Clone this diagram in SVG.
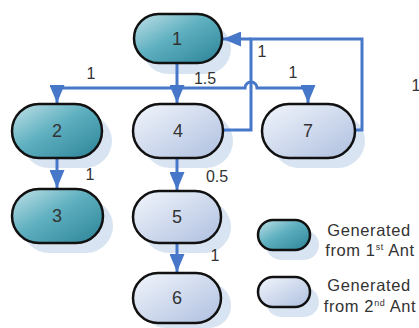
<svg xmlns="http://www.w3.org/2000/svg" width="419" height="328" viewBox="0 0 419 328">
  <defs>
    <linearGradient id="gTeal" x1="0" y1="0" x2="1" y2="1">
      <stop offset="0" stop-color="#c2e2e8"/>
      <stop offset="0.45" stop-color="#5fb0c0"/>
      <stop offset="1" stop-color="#2b8396"/>
    </linearGradient>
    <linearGradient id="gPale" x1="0" y1="0" x2="1" y2="1">
      <stop offset="0" stop-color="#f2f6fc"/>
      <stop offset="1" stop-color="#aebfdf"/>
    </linearGradient>
    <marker id="arrow" viewBox="0 0 12 10" refX="12" refY="5" markerWidth="6" markerHeight="5" markerUnits="strokeWidth" orient="auto">
      <path d="M0,0 L12,5 L0,10 z" fill="#4677c9"/>
    </marker>
  </defs>
  <style>
    .shadow { fill: #d9e4f2; }
    .ant1 { fill: url(#gTeal); stroke: #111; stroke-width: 2.5; }
    .ant2 { fill: url(#gPale); stroke: #111; stroke-width: 2.5; }
    .label { font-family: "Liberation Sans", Arial, sans-serif; font-size: 18px; fill: #333; text-anchor: middle; }
    .w { font-family: "Liberation Sans", Arial, sans-serif; font-size: 16px; fill: #333; text-anchor: middle; }
    .legend { font-family: "Liberation Sans", Arial, sans-serif; font-size: 16.5px; letter-spacing: 0.6px; fill: #333; text-anchor: middle; }
    .edge { fill: none; stroke: #4677c9; stroke-width: 3; }
  </style>
  <rect width="419" height="328" fill="#fff"/>

  <!-- drop shadows -->
  <g id="shadows">
    <rect class="shadow" x="143" y="24" width="88" height="50" rx="25"/>
    <rect class="shadow" x="22" y="114" width="90" height="54" rx="27"/>
    <rect class="shadow" x="143" y="114" width="90" height="54" rx="27"/>
    <rect class="shadow" x="272" y="114" width="93" height="54" rx="27"/>
    <rect class="shadow" x="22" y="199" width="91" height="54" rx="27"/>
    <rect class="shadow" x="143" y="201" width="88" height="52" rx="26"/>
    <rect class="shadow" x="143" y="283" width="88" height="45" rx="22"/>
    <rect class="shadow" x="266" y="230" width="53" height="30" rx="15"/>
    <rect class="shadow" x="266" y="287" width="53" height="30" rx="15"/>
  </g>

  <!-- connectors -->
  <g id="connectors">
    <path class="edge" d="M177,63 V103" marker-end="url(#arrow)"/>
    <path class="edge" d="M57,88 H245 A6,6 0 0 1 257,88 H308 V103" marker-end="url(#arrow)"/>
    <path class="edge" d="M57,88 V103" marker-end="url(#arrow)"/>
    <path class="edge" d="M222,130 H251 V39 H362 V130 H355"/>
    <path class="edge" d="M251,39 H223" marker-end="url(#arrow)"/>
    <path class="edge" d="M57,158 V188" marker-end="url(#arrow)"/>
    <path class="edge" d="M177,158 V190" marker-end="url(#arrow)"/>
    <path class="edge" d="M177,242 V272" marker-end="url(#arrow)"/>
    <text class="w" x="91" y="79">1</text>
    <text class="w" x="205" y="84">1.5</text>
    <text class="w" x="293" y="78">1</text>
    <text class="w" x="262" y="57">1</text>
    <text class="w" x="416" y="91">1</text>
    <text class="w" x="90" y="180">1</text>
    <text class="w" x="217" y="182">0.5</text>
    <text class="w" x="215" y="261">1</text>
  </g>

  <g id="node1">
    <rect class="ant1" x="134" y="14" width="88" height="49" rx="24.5"/>
    <text class="label" x="177" y="45">1</text>
  </g>
  <g id="node2">
    <rect class="ant1" x="12" y="104" width="90" height="54" rx="27"/>
    <text class="label" x="57" y="137">2</text>
  </g>
  <g id="node4">
    <rect class="ant2" x="133" y="104" width="90" height="54" rx="27"/>
    <text class="label" x="178" y="137">4</text>
  </g>
  <g id="node7">
    <rect class="ant2" x="262" y="104" width="93" height="54" rx="27"/>
    <text class="label" x="308" y="137">7</text>
  </g>
  <g id="node3">
    <rect class="ant1" x="12" y="189" width="91" height="54" rx="27"/>
    <text class="label" x="57" y="222">3</text>
  </g>
  <g id="node5">
    <rect class="ant2" x="133" y="191" width="88" height="52" rx="26"/>
    <text class="label" x="177" y="223">5</text>
  </g>
  <g id="node6">
    <rect class="ant2" x="133" y="273" width="88" height="50" rx="25"/>
    <text class="label" x="177" y="304">6</text>
  </g>

  <g id="legend">
    <rect class="ant1" x="258" y="220" width="52" height="30" rx="15"/>
    <text class="legend" x="369" y="236">Generated</text>
    <text class="legend" x="370" y="256">from 1<tspan font-size="9" dy="-6">st</tspan><tspan dy="6"> Ant</tspan></text>
    <rect class="ant2" x="258" y="277" width="52" height="30" rx="15"/>
    <text class="legend" x="369" y="291">Generated</text>
    <text class="legend" x="370" y="312">from 2<tspan font-size="9" dy="-6">nd</tspan><tspan dy="6"> Ant</tspan></text>
  </g>
</svg>
